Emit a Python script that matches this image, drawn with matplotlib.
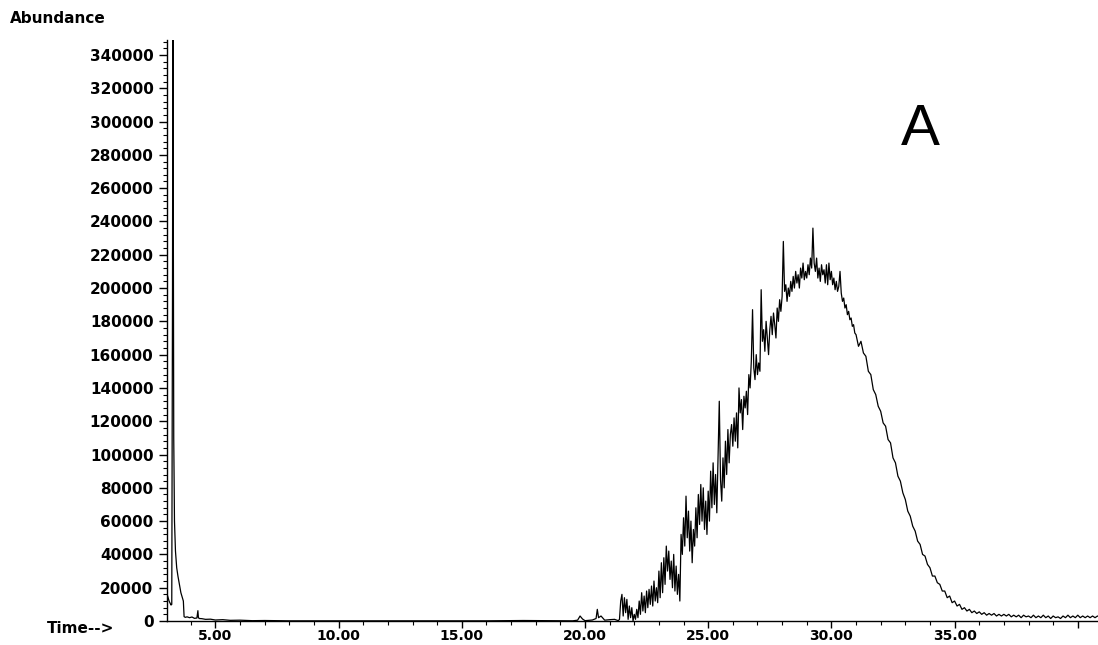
import numpy as np
import matplotlib
matplotlib.use("Agg")
import matplotlib.pyplot as plt
from matplotlib.font_manager import FontProperties
from matplotlib.ticker import MultipleLocator, FixedLocator, FuncFormatter

# --- total ion chromatogram, abundances in thousands of counts ---

# solvent front and flat baseline up to the start of the broad hump
early_time = [3.05, 3.12, 3.20, 3.23, 3.26, 3.275, 3.29, 3.31, 3.34, 3.38,
              3.43, 3.48, 3.54, 3.60, 3.67, 3.70, 3.73, 3.78, 3.85, 3.95,
              4.05, 4.15, 4.25, 4.29, 4.31, 4.34, 4.45, 4.60, 4.80, 5.00,
              5.30, 5.60, 6.00, 6.50, 7.00, 8.00, 10.0, 12.0, 14.0, 16.0,
              17.5, 19.5, 19.7, 19.8, 19.9, 20.0, 20.3, 20.45, 20.5, 20.55,
              20.65, 20.8, 21.0, 21.2, 21.35]
early_kabund = [15.6, 12, 9.6, 10, 200, 380, 260, 110, 60, 42,
                32, 27, 22, 17, 13.6, 12, 2.6, 2.2, 2.5, 2,
                2.4, 1.6, 1.8, 6.2, 2.2, 1.5, 1.4, 1.0, 1.1, 0.6,
                0.8, 0.4, 0.5, 0.2, 0.3, 0.1, 0.1, 0.1, 0.1, 0.1,
                0.3, 0.1, 0.5, 3, 1.2, 0.2, 0.6, 1.5, 7, 2,
                3, 0.5, 0.8, 1, 0.2]

# broad unresolved hump, scans every 0.05 min from 21.40
hump_start, hump_step = 21.40, 0.05
hump_kabund = [
    1, 12, 16, 3, 14, 5, 13, 1, 9, 2,
    8, 0, 4, 1, 7, 2, 12, 4, 17, 6,
    15, 5, 18, 8, 19, 10, 21, 9, 24, 12,
    20, 11, 30, 14, 35, 17, 38, 22, 45, 30,
    42, 25, 36, 20, 40, 18, 33, 16, 28, 12,
    52, 40, 62, 45, 75, 50, 66, 42, 60, 35,
    55, 45, 68, 50, 76, 58, 82, 60, 80, 55,
    72, 52, 78, 60, 90, 68, 95, 70, 88, 65,
    100, 132, 85, 72, 98, 80, 108, 88, 115, 95,
    112, 118, 105, 122, 108, 125, 104, 140, 125, 133,
    115, 135, 128, 138, 124, 148, 140, 156, 187, 152,
    145, 160, 148, 155, 150, 199, 168, 175, 162, 180,
    170, 160, 175, 183, 172, 185, 178, 170, 188, 180,
    193, 186, 195, 228, 198, 202, 192, 200, 195, 204,
    198, 207, 200, 210, 203, 208, 200, 212, 206, 215,
    205, 210, 206, 214, 208, 218, 212, 236, 215, 210,
    218, 206, 212, 204, 214, 208, 211, 203, 214, 202,
    215, 205, 210, 202, 206, 199, 204, 198, 201, 210,
    197, 192, 194, 188, 190, 184, 186, 181, 182, 177,
    178, 173,
]

# falling edge and tail, scans every 0.1 min from 31.0
tail_start, tail_step = 31.0, 0.1
tail_kabund = [
    172, 165, 168, 161, 159, 150, 148, 139, 136, 129,
    126, 119, 117, 109, 107, 98, 95, 87, 84, 77,
    73, 66, 63, 57, 54, 48, 46, 40, 39, 34,
    32, 27, 27, 23, 22, 18, 18, 14, 15, 11,
    12, 9, 10, 7, 8, 6, 7, 5, 6, 4.5,
    5.5, 4, 5, 3.5, 4.5, 3.5, 4.5, 3, 4, 3,
    4, 3, 4, 2.5, 3.5, 2.5, 3.5, 2, 3.5, 2.5,
    3, 2, 3.5, 2, 3, 2, 3.5, 2, 3, 1.5,
    3, 2, 2.5, 1.5, 3, 2, 3.5, 2, 3, 2,
    3.5, 2, 3, 2, 3, 2, 3, 2, 3, 2.5,
]

y_ticks = list(range(0, 340001, 20000))
x_ticks = [5, 10, 15, 20, 25, 30, 35, 40]

hump_time = hump_start + hump_step * np.arange(len(hump_kabund))
tail_time = tail_start + tail_step * np.arange(len(tail_kabund))
time = np.concatenate([early_time, hump_time, tail_time])
abund = np.concatenate([early_kabund, hump_kabund, tail_kabund]) * 1000.0

label_font = dict(family="DejaVu Sans", weight="bold", size=11)
xlabel_font = dict(family="DejaVu Sans", weight="bold", size=10)

fig = plt.figure(figsize=(10.98, 6.45), dpi=100)
ax = fig.add_axes([0.1524, 0.0372, 0.8476, 0.9008])
ax.plot(time, abund, color="black", lw=0.9)

ax.set_xlim(3.05, 40.82)
ax.set_ylim(0, 349000)

for side in ("top", "right"):
    ax.spines[side].set_visible(False)
for side in ("left", "bottom"):
    ax.spines[side].set_linewidth(1.0)

ax.yaxis.set_major_locator(FixedLocator(y_ticks))
ax.yaxis.set_minor_locator(MultipleLocator(4000))
ax.yaxis.set_major_formatter(FuncFormatter(lambda v, p: f"{v:.0f}"))

ax.xaxis.set_major_locator(FixedLocator(x_ticks))
ax.xaxis.set_minor_locator(MultipleLocator(1))
ax.xaxis.set_major_formatter(
    FuncFormatter(lambda v, p: "" if v >= 39.5 else f"{v:.2f}"))

ax.tick_params(axis="y", which="major", direction="out", length=6,
               width=1.0, color="black", pad=4)
ax.tick_params(axis="x", which="major", direction="out", length=5,
               width=1.0, color="black", pad=1)
ax.tick_params(axis="both", which="minor", direction="out", length=3,
               width=0.8, color="black")
for lbl in ax.get_yticklabels():
    lbl.set_fontproperties(FontProperties(**label_font))
for lbl in ax.get_xticklabels():
    lbl.set_fontproperties(FontProperties(**xlabel_font))

fig.text(0.009, 0.972, "Abundance", ha="left", va="center", **label_font)
fig.text(0.043, 0.026, "Time-->", ha="left", va="center", **label_font)
fig.text(0.838, 0.798, "A", ha="center", va="center",
         family="Liberation Sans", size=42)

fig.savefig("out.png", dpi=100)
